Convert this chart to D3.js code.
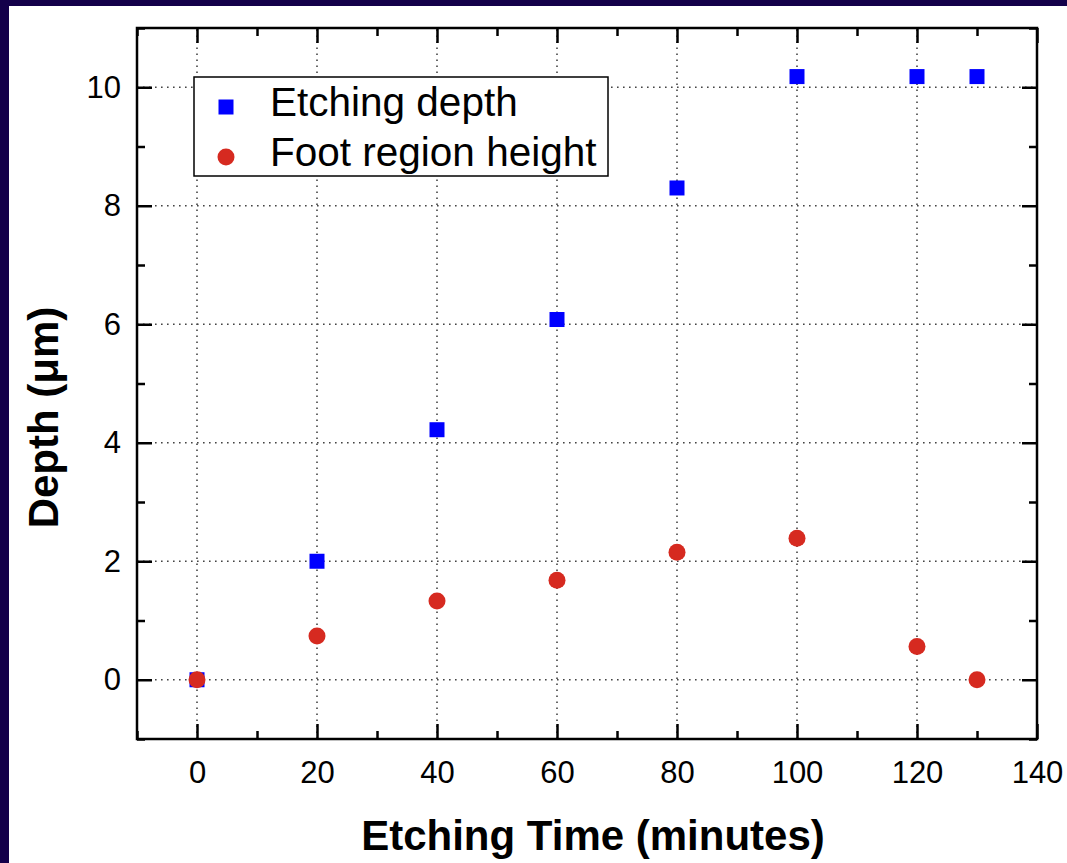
<!DOCTYPE html>
<html lang="en">
<head>
  <meta charset="UTF-8">
  <title>Etching depth</title>
  <style>
    body { margin: 0; background: #14004a; }
    svg { display: block; }
    text { font-family: "Liberation Sans", Arial, sans-serif; fill: #000; }
  </style>
</head>
<body>
  <script src="https://d3js.org/d3.v7.min.js"></script>
  <script>
    // data
    const times = [0, 20, 40, 60, 80, 100, 120, 130];
    const etchDepth = [0, 2.0, 4.22, 6.08, 8.3, 10.18, 10.18, 10.18];
    const footHeight = [0, 0.74, 1.33, 1.68, 2.15, 2.39, 0.56, 0];
    const xTicks = [0, 20, 40, 60, 80, 100, 120, 140];
    const xMinor = [-10, 10, 30, 50, 70, 90, 110, 130];
    const yTicks = [0, 2, 4, 6, 8, 10];
    const yMinor = [-1, 1, 3, 5, 7, 9, 11];
    const seriesNames = ["Etching depth", "Foot region height"];

    const width = 1067, height = 863;
    const margin = { top: 28, left: 137, bottom: 124, right: 30 };

    const svg = d3.select('body').append('svg').attr('width', width).attr('height', height);

    // navy border + white panel
    svg.append('rect').attr('width', width).attr('height', height).attr('fill', '#14004a');
    svg.append('rect').attr('x', 9).attr('y', 6).attr('width', width - 9).attr('height', height - 6).attr('fill', '#fff');

    const x = d3.scaleLinear().domain([-10, 140]).range([margin.left, width - margin.right]);
    const y = d3.scaleLinear().domain([-1, 11]).range([height - margin.bottom, margin.top]);
    const x0 = x.range()[0], x1 = x.range()[1], y0 = y.range()[0], y1 = y.range()[1];

    // grid
    const grid = svg.append('g').attr('stroke', '#444').attr('stroke-width', 1.6).attr('stroke-dasharray', '1.6,4.4');
    grid.selectAll('.gx').data(xTicks.filter(d => d > -10 && d < 140)).enter().append('line')
      .attr('x1', d => x(d)).attr('x2', d => x(d)).attr('y1', y0).attr('y2', y1);
    grid.selectAll('.gy').data(yTicks).enter().append('line')
      .attr('y1', d => y(d)).attr('y2', d => y(d)).attr('x1', x0).attr('x2', x1);

    // axes, ticks inward on all four sides
    function styleAxis(g) {
      g.select('.domain').remove();
      g.selectAll('.tick line').attr('stroke', '#000').attr('stroke-width', 2.5);
      g.selectAll('.tick text').style('font-size', '31px').attr('fill', '#000');
    }
    svg.append('g').attr('transform', `translate(0,${y0})`)
      .call(d3.axisBottom(x).tickValues(xTicks).tickSize(-15).tickPadding(22)).call(styleAxis);
    svg.append('g').attr('transform', `translate(0,${y0})`)
      .call(d3.axisBottom(x).tickValues(xMinor).tickSize(-8).tickFormat('')).call(styleAxis);
    svg.append('g').attr('transform', `translate(0,${y1})`)
      .call(d3.axisTop(x).tickValues(xTicks).tickSize(-15).tickFormat('')).call(styleAxis);
    svg.append('g').attr('transform', `translate(0,${y1})`)
      .call(d3.axisTop(x).tickValues(xMinor).tickSize(-8).tickFormat('')).call(styleAxis);
    svg.append('g').attr('transform', `translate(${x0},0)`)
      .call(d3.axisLeft(y).tickValues(yTicks).tickSize(-15).tickPadding(16)).call(styleAxis);
    svg.append('g').attr('transform', `translate(${x0},0)`)
      .call(d3.axisLeft(y).tickValues(yMinor).tickSize(-8).tickFormat('')).call(styleAxis);
    svg.append('g').attr('transform', `translate(${x1},0)`)
      .call(d3.axisRight(y).tickValues(yTicks).tickSize(-15).tickFormat('')).call(styleAxis);
    svg.append('g').attr('transform', `translate(${x1},0)`)
      .call(d3.axisRight(y).tickValues(yMinor).tickSize(-8).tickFormat('')).call(styleAxis);

    // frame
    svg.append('rect').attr('x', x0).attr('y', y1).attr('width', x1 - x0).attr('height', y0 - y1)
      .attr('fill', 'none').attr('stroke', '#000').attr('stroke-width', 2.5);

    // markers
    const sq = 15, r = 8.5;
    svg.append('g').selectAll('rect').data(times).enter().append('rect')
      .attr('x', (d) => x(d) - sq / 2)
      .attr('y', (d, i) => y(etchDepth[i]) - sq / 2)
      .attr('width', sq).attr('height', sq).attr('fill', '#0000ff');
    svg.append('g').selectAll('circle').data(times).enter().append('circle')
      .attr('cx', d => x(d))
      .attr('cy', (d, i) => y(footHeight[i]))
      .attr('r', r).attr('fill', '#d62a20');

    // legend
    const lg = svg.append('g');
    lg.append('rect').attr('x', 194).attr('y', 77).attr('width', 414).attr('height', 99)
      .attr('fill', '#fff').attr('stroke', '#000').attr('stroke-width', 1.5);
    lg.append('rect').attr('x', 226 - sq / 2).attr('y', 107 - sq / 2).attr('width', sq).attr('height', sq).attr('fill', '#0000ff');
    lg.append('circle').attr('cx', 226).attr('cy', 157).attr('r', r).attr('fill', '#d62a20');
    lg.selectAll('text').data(seriesNames).enter().append('text')
      .attr('x', 270).attr('y', (d, i) => 116 + i * 50)
      .style('font-size', '40.5px').text(d => d);

    // axis titles
    svg.append('text').attr('x', (x0 + x1) / 2 + 6).attr('y', 850).attr('text-anchor', 'middle')
      .style('font-size', '42px').style('font-weight', 'bold').text('Etching Time (minutes)');
    svg.append('text').attr('transform', `translate(58,${(y0 + y1) / 2 + 34}) rotate(-90)`).attr('text-anchor', 'middle')
      .style('font-size', '42px').style('font-weight', 'bold').text('Depth (μm)');
  </script>
</body>
</html>
